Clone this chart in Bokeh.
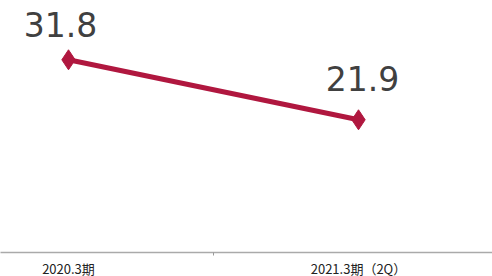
from bokeh.plotting import figure
from bokeh.models import ColumnDataSource, Range1d, FixedTicker
from bokeh.core.properties import value
from bokeh.embed import file_html
from bokeh.resources import INLINE

categories = ["2020.3期", "2021.3期（2Q）"]
values = [31.8, 21.9]

xs = list(range(len(categories)))
src = ColumnDataSource(dict(
    x=xs, y=values,
    label=[f"{v:.1f}" for v in values],
    xo=[-8, 4], yo=[-35, -41],
))

p = figure(width=492, frame_height=252, output_backend="svg", toolbar_location=None,
           x_range=Range1d(-68 / 290, 424 / 290), y_range=Range1d(0, 252 / 6.06),
           min_border=0, min_border_left=0, min_border_right=0, min_border_top=0,
           min_border_bottom=0)
p.outline_line_color = None
p.xgrid.visible = False
p.ygrid.visible = False
p.yaxis.visible = False
p.background_fill_color = "white"
p.border_fill_color = "white"

p.line("x", "y", source=src, line_color="#B0173F", line_width=5)
p.scatter("x", "y", source=src, marker="diamond", size=20, fill_color="#B0173F",
          line_color="#B0173F")
p.text("x", "y", text="label", source=src, x_offset="xo", y_offset="yo",
       text_align="center", text_baseline="alphabetic", text_font=value("DejaVu Sans"),
       text_font_size="33px", text_color="#404040")

ax = p.xaxis[0]
ax.ticker = FixedTicker(ticks=xs, minor_ticks=[0.5])
ax.major_label_overrides = {i: c for i, c in enumerate(categories)}
ax.major_tick_out = 0
ax.major_tick_in = 0
ax.minor_tick_out = 3
ax.minor_tick_in = 0
ax.minor_tick_line_color = "#999999"
ax.axis_line_color = "#AAAAAA"
ax.axis_line_width = 1.5
ax.major_label_standoff = 3
ax.major_label_text_font = "Noto Sans CJK JP"
ax.major_label_text_font_size = "13px"
ax.major_label_text_color = "#222222"

open("out.html", "w").write(file_html(p, INLINE))
